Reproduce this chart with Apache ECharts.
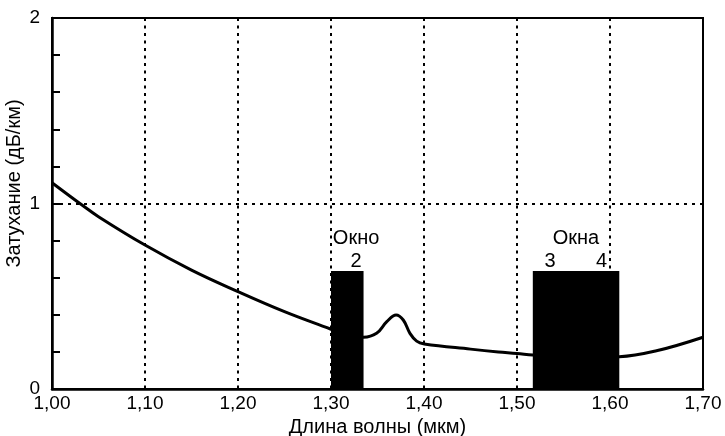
<!DOCTYPE html>
<html><head><meta charset="utf-8">
<script src="https://cdn.jsdelivr.net/npm/echarts@6/dist/echarts.min.js"></script>
<style>html,body{margin:0;padding:0;background:#fff}#c{width:725px;height:436px}</style>
</head><body><div id="c"></div>
<script>
// Attenuation curve (wavelength µm, dB/km)
const wavelength = [1.00,1.03,1.05,1.10,1.15,1.20,1.25,1.30,1.316,1.335,1.349,1.360,1.370,1.3777,1.3849,1.3921,1.4003,1.45,1.48,1.50,1.517,1.56,1.610,1.65,1.70];
const attenuation = [1.112,1.0,0.929,0.776,0.641,0.525,0.417,0.322,0.29,0.279,0.300,0.363,0.399,0.372,0.300,0.258,0.243,0.215,0.200,0.192,0.183,0.170,0.174,0.206,0.279];
// Transmission windows: [start, end, height]
const windowStart = [1.300, 1.517];
const windowEnd = [1.335, 1.610];
const windowHeight = [0.636, 0.636];
// Window annotations
const noteText = ['Окно', '2', 'Окна', '3', '4'];
const noteX = [1.327, 1.327, 1.5634, 1.5355, 1.591];
const noteY = [0.814, 0.685, 0.814, 0.685, 0.685];
// Tick labels
const xTicks = ['1,00','1,10','1,20','1,30','1,40','1,50','1,60','1,70'];

const FONT = 'Liberation Sans, Arial, sans-serif';
const chart = echarts.init(document.getElementById('c'), null, {renderer:'canvas'});
const curve = wavelength.map((x,i)=>[x, attenuation[i]]);
const windows = windowStart.map((s,i)=>[s, windowEnd[i], windowHeight[i]]);
const notes = noteText.map((t,i)=>({value:[noteX[i], noteY[i]], name:t}));

chart.setOption({
  animation:false,
  backgroundColor:'#fff',
  grid:{left:52, right:22, top:18, bottom:47, containLabel:false, outerBoundsMode:'none',
    show:true, borderColor:'#000', borderWidth:2},
  xAxis:{
    type:'value', min:1.0, max:1.7, interval:0.1,
    name:'Длина волны (мкм)', nameLocation:'middle', nameGap:28, nameMoveOverlap:false,
    nameTextStyle:{fontFamily:FONT, fontSize:20, color:'#000'},
    axisLine:{lineStyle:{color:'#000', width:2.5}},
    axisTick:{show:false},
    axisLabel:{fontFamily:FONT, fontSize:19, color:'#000', margin:5,
      formatter:(v)=>xTicks[Math.round((v-1.0)*10)] || ''},
    splitLine:{show:true, lineStyle:{color:'#000', width:2, type:[3,4.5]}}
  },
  yAxis:{
    type:'value', min:0, max:2, interval:0.2,
    name:'Затухание (дБ/км)', nameLocation:'middle', nameGap:28, nameRotate:90, nameMoveOverlap:false,
    nameTextStyle:{fontFamily:FONT, fontSize:20, color:'#000', padding:[0,0,0,40]},
    axisLine:{show:true, lineStyle:{color:'#000', width:2.5}},
    axisTick:{show:true, inside:true, length:8, lineStyle:{color:'#000', width:2}},
    axisLabel:{fontFamily:FONT, fontSize:19, color:'#000', margin:12,
      formatter:(v)=> Math.abs(v-Math.round(v))<1e-6 ? String(Math.round(v)) : ''},
    splitLine:{show:false}
  },
  series:[
    {
      type:'line', data:curve, smooth:0.4, symbol:'none',
      lineStyle:{color:'#000', width:3}, z:2,
      markLine:{silent:true, symbol:'none', label:{show:false},
        lineStyle:{color:'#000', width:2, type:[3,5]},
        data:[{yAxis:1}]}
    },
    {
      type:'custom', data:windows, z:3,
      renderItem:(params, api)=>{
        const p0 = api.coord([api.value(0), api.value(2)]);
        const p1 = api.coord([api.value(1), 0]);
        return {type:'rect', shape:{x:p0[0], y:p0[1], width:p1[0]-p0[0], height:p1[1]-p0[1]},
          style:{fill:'#000'}};
      }
    },
    {
      type:'scatter', data:notes, symbolSize:0, z:4,
      label:{show:true, position:'inside', formatter:(p)=>p.name,
        fontFamily:FONT, fontSize:20, color:'#000'},
      itemStyle:{opacity:1}
    }
  ]
});
</script></body></html>
